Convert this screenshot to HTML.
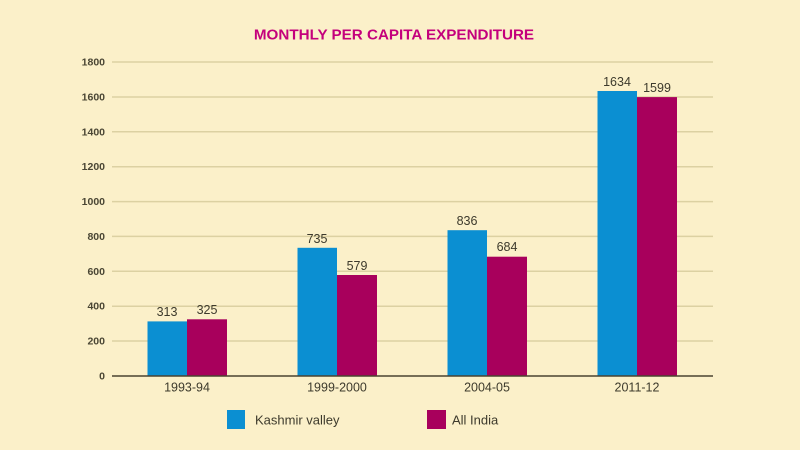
<!DOCTYPE html>
<html><head><meta charset="utf-8"><style>
html,body{margin:0;padding:0;background:#fbf0c9;}
svg{display:block;}
text{font-family:"Liberation Sans",sans-serif;}
</style></head><body>
<svg width="800" height="450" viewBox="0 0 800 450" xmlns="http://www.w3.org/2000/svg">
<rect width="800" height="450" fill="#fbf0c9"/>
<text x="394" y="39.5" text-anchor="middle" font-size="15.2" font-weight="bold" fill="#c4007c">MONTHLY PER CAPITA EXPENDITURE</text>
<g stroke="#dcd1a2" stroke-width="1.5">
<line x1="112" y1="62" x2="713" y2="62"/>
<line x1="112" y1="97" x2="713" y2="97"/>
<line x1="112" y1="131.8" x2="713" y2="131.8"/>
<line x1="112" y1="166.7" x2="713" y2="166.7"/>
<line x1="112" y1="201.6" x2="713" y2="201.6"/>
<line x1="112" y1="236.4" x2="713" y2="236.4"/>
<line x1="112" y1="271.3" x2="713" y2="271.3"/>
<line x1="112" y1="306.2" x2="713" y2="306.2"/>
<line x1="112" y1="341" x2="713" y2="341"/>
</g>
<g font-size="10.5" fill="#4a4634" text-anchor="end" font-weight="bold">
<text x="105" y="65.5">1800</text>
<text x="105" y="100.5">1600</text>
<text x="105" y="135.3">1400</text>
<text x="105" y="170.2">1200</text>
<text x="105" y="205.1">1000</text>
<text x="105" y="239.9">800</text>
<text x="105" y="274.8">600</text>
<text x="105" y="309.7">400</text>
<text x="105" y="344.5">200</text>
<text x="105" y="379.4">0</text>
</g>
<g fill="#0b8fd2">
<rect x="147.5" y="321.4" width="39.5" height="54.6"/>
<rect x="297.5" y="247.8" width="39.5" height="128.2"/>
<rect x="447.5" y="230.2" width="39.5" height="145.8"/>
<rect x="597.5" y="91" width="39.5" height="285"/>
</g>
<g fill="#a8005c">
<rect x="187" y="319.3" width="40" height="56.7"/>
<rect x="337" y="275" width="40" height="101"/>
<rect x="487" y="256.7" width="40" height="119.3"/>
<rect x="637" y="97.1" width="40" height="278.9"/>
</g>
<line x1="112" y1="376" x2="713" y2="376" stroke="#4a4230" stroke-width="1.5"/>
<g font-size="12.5" fill="#3d3a2c" text-anchor="middle">
<text x="167" y="316">313</text>
<text x="207" y="314">325</text>
<text x="317" y="243">735</text>
<text x="357" y="270">579</text>
<text x="467" y="225">836</text>
<text x="507" y="251">684</text>
<text x="617" y="86">1634</text>
<text x="657" y="92">1599</text>
</g>
<g font-size="12.5" fill="#3d3a2c" text-anchor="middle">
<text x="187" y="391.5">1993-94</text>
<text x="337" y="391.5">1999-2000</text>
<text x="487" y="391.5">2004-05</text>
<text x="637" y="391.5">2011-12</text>
</g>
<rect x="227" y="410" width="18" height="19" fill="#0b8fd2"/>
<text x="255" y="424.5" font-size="13" fill="#3d3a2c">Kashmir valley</text>
<rect x="427" y="410" width="19" height="19" fill="#a8005c"/>
<text x="452" y="424.5" font-size="13" fill="#3d3a2c">All India</text>
</svg>
</body></html>
